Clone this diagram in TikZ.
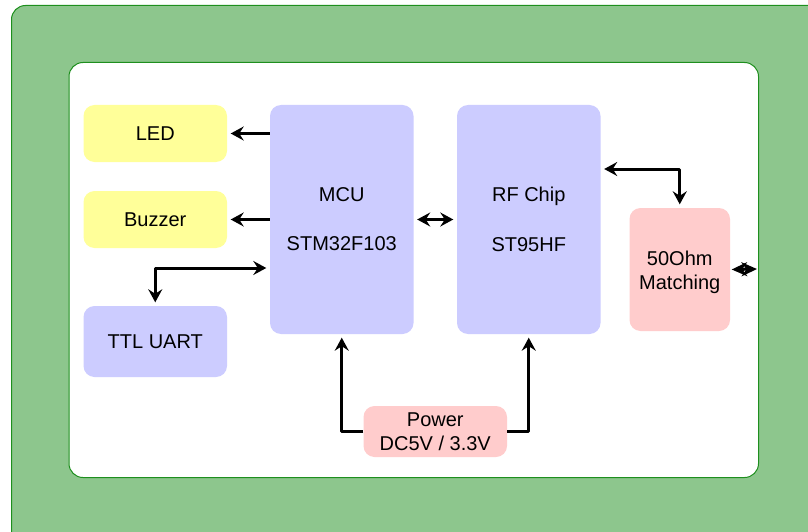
\documentclass[tikz,border=0pt]{standalone}
\usepackage{fontspec}
\setmainfont{Liberation Sans}
\usetikzlibrary{arrows.meta}
\definecolor{outerfill}{HTML}{8DC68D}
\definecolor{framegreen}{HTML}{1E8F1E}
\definecolor{ylw}{HTML}{FFFF99}
\definecolor{blu}{HTML}{CCCCFF}
\definecolor{pnk}{HTML}{FFCCCC}
\tikzset{
  blockbox/.style={rounded corners=11pt,inner sep=0pt,align=center,font=\fontsize{20}{24.5}\selectfont,text=black},
  framebox/.style={rounded corners=14pt,draw=framegreen,line width=1pt},
  conn/.style={line width=3pt,black,line join=round,{Stealth[length=13pt,width=14pt,inset=4.5pt]}-{Stealth[length=13pt,width=14pt,inset=4.5pt]},shorten <=3.5pt,shorten >=3.5pt},
  connshort/.style={line width=3pt,black,{Stealth[length=15.5pt,width=14pt,inset=5pt]}-{Stealth[length=15.5pt,width=14pt,inset=5pt]},shorten <=1.5pt,shorten >=1pt},
  connplain/.style={line width=3pt,black,line join=round,-{Stealth[length=13pt,width=14pt,inset=4.5pt]},shorten >=3.5pt},
}
\begin{document}
\begin{tikzpicture}[x=1pt,y=-1pt]
\useasboundingbox (0,0) rectangle (808,532);
\begin{scope}
\clip (0,0) rectangle (808,532);
\draw[framebox,fill=outerfill] (11.5,5.5) rectangle (830,550);
\end{scope}
\draw[framebox,fill=white] (69,62.5) rectangle (758.5,477.5);
\coordinate (inneredge) at (758,269);
\node[blockbox,fill=ylw,minimum width=143.5pt,minimum height=57pt] (led) at (155.25,133.5) {LED};
\node[blockbox,fill=ylw,minimum width=143.5pt,minimum height=57pt] (buzzer) at (155.25,219.5) {Buzzer};
\node[blockbox,fill=blu,minimum width=143.5pt,minimum height=71pt] (ttl) at (155.25,341.5) {TTL UART};
\node[blockbox,fill=blu,minimum width=143.5pt,minimum height=229pt] (mcu) at (341.75,219.5) {MCU\\[24.5pt]STM32F103};
\node[blockbox,fill=blu,minimum width=143.5pt,minimum height=229pt] (rf) at (528.75,219.5) {RF Chip\\[25pt]ST95HF};
\node[blockbox,fill=pnk,minimum width=100.5pt,minimum height=123pt] (match) at (679.75,269.5) {\rule{0pt}{20pt}50Ohm\\Matching};
\node[blockbox,fill=pnk,minimum width=143.5pt,minimum height=51pt] (power) at (435.25,431.5) {Power\\DC5V / 3.3V};
\draw[connplain] (mcu.west |- led.east) -- (led.east);
\draw[connplain] (mcu.west |- buzzer.east) -- (buzzer.east);
\draw[conn] (ttl.north) -- (ttl.north |- 0,268) -- (mcu.west |- 0,268);
\draw[conn] (mcu.east) -- (rf.east -| rf.west);
\draw[conn] (rf.east |- 0,169) -- (match.north |- 0,169) -- (match.north);
\draw[connshort] (match.east) -- (inneredge);
\draw[connplain] (power.west) -| (mcu.south);
\draw[connplain] (power.east) -| (rf.south);
\end{tikzpicture}
\end{document}
